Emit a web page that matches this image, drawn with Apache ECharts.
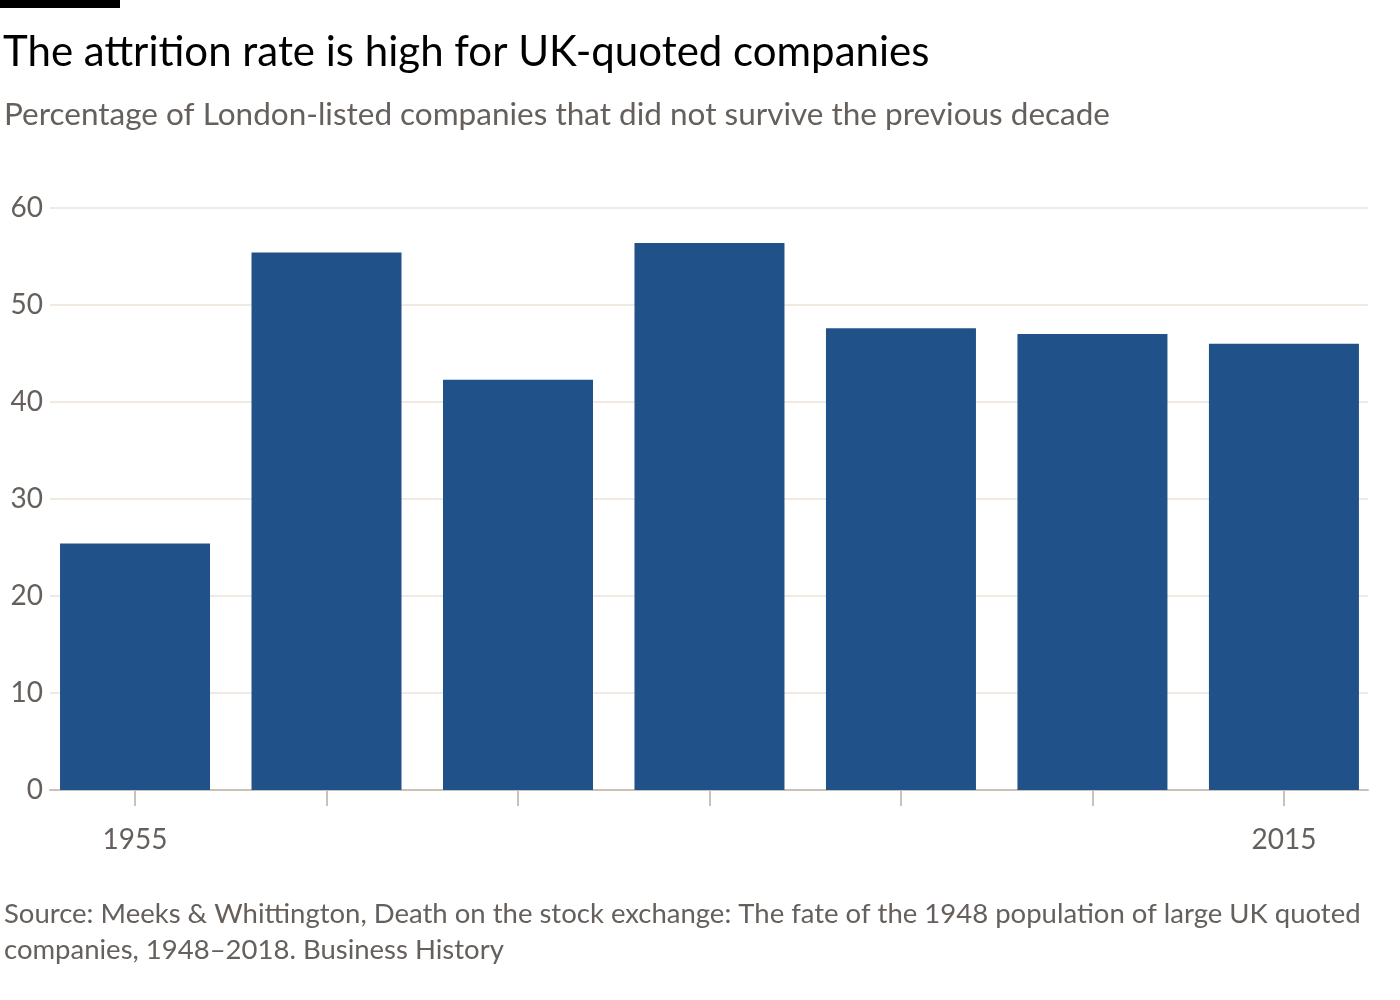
<!DOCTYPE html>
<html>
<head>
<meta charset="utf-8">
<script src="https://cdn.jsdelivr.net/npm/echarts@6/dist/echarts.min.js"></script>
<style>
html,body{margin:0;padding:0;background:#fff;}
#chart{width:1400px;height:1000px;}
</style>
</head>
<body>
<div id="chart"></div>
<script>
const years = [1955, 1965, 1975, 1985, 1995, 2005, 2015];
const attritionPct = [25.4, 55.4, 42.3, 56.4, 47.6, 47.0, 46.0];
const yTicks = [0, 10, 20, 30, 40, 50, 60];
const xLabelYears = [1955, 2015];

const FONT = 'Lato, "Noto Sans", sans-serif';
const chart = echarts.init(document.getElementById('chart'));
chart.setOption({
  backgroundColor: '#ffffff',
  animation: false,
  graphic: [{
    type: 'rect', left: 0, top: 0,
    shape: { width: 120, height: 8 },
    style: { fill: '#000000' }
  }],
  title: [{
    text: 'The attrition rate is high for UK-quoted companies',
    left: -2, top: 23,
    textStyle: { fontFamily: FONT, fontSize: 42, fontWeight: 'normal', color: '#000000', lineHeight: 48 }
  }, {
    text: 'Percentage of London-listed companies that did not survive the previous decade',
    left: -1, top: 92,
    textStyle: { fontFamily: FONT, fontSize: 31.5, fontWeight: 'normal', color: '#66605c', lineHeight: 36 }
  }, {
    text: 'Source: Meeks & Whittington, Death on the stock exchange: The fate of the 1948 population of large UK quoted\ncompanies, 1948\u20132018. Business History',
    left: -1, top: 891,
    textStyle: { fontFamily: FONT, fontSize: 27.5, fontWeight: 'normal', color: '#66605c', lineHeight: 36 }
  }],
  grid: { left: 50, right: 32, top: 208, bottom: 210, containLabel: false },
  xAxis: {
    type: 'value',
    min: 1950.56, max: 2019.39,
    splitLine: { show: false },
    axisLine: { show: true, lineStyle: { color: '#ccc1b7', width: 2 } },
    axisTick: { show: true, length: 16, customValues: years, lineStyle: { color: '#ccc1b7', width: 2 } },
    axisLabel: {
      customValues: xLabelYears, margin: 36,
      fontFamily: FONT, fontSize: 28, color: '#66605c',
      formatter: v => String(v)
    }
  },
  yAxis: {
    type: 'value',
    min: 0, max: 60, interval: 10,
    axisLine: { show: false },
    axisTick: { show: false },
    splitLine: { lineStyle: { color: '#ede3d8', width: 1.5 } },
    axisLabel: {
      margin: 7, fontFamily: FONT, fontSize: 28, color: '#66605c',
      customValues: yTicks
    }
  },
  series: [{
    type: 'bar',
    data: years.map((y, i) => [y, attritionPct[i]]),
    barWidth: 150,
    itemStyle: { color: '#205289' },
    z: 1
  }]
});
</script>
</body>
</html>
